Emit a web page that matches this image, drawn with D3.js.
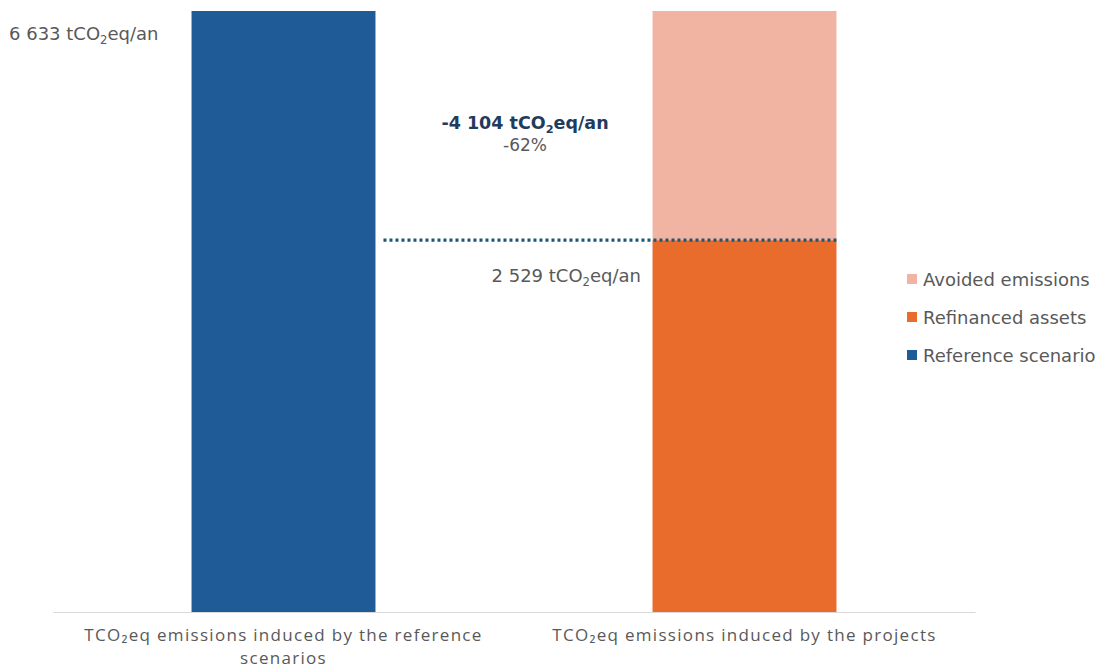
<!DOCTYPE html>
<html>
<head>
<meta charset="utf-8">
<script src="https://cdn.jsdelivr.net/npm/d3@7"></script>
<style>
  body { margin: 0; background: #fff; }
  svg { display: block; font-family: "DejaVu Sans", "Open Sans", sans-serif; }
</style>
</head>
<body>
<svg id="chart" width="1105" height="668"></svg>
<script>
// Categories on the x axis (each label split into lines)
const categories = ["reference", "projects"];
const categoryLabels = [
  ["TCO₂eq emissions induced by the reference", "scenarios"],
  ["TCO₂eq emissions induced by the projects"]
];

// Stacked series (tCO2eq/an)
const referenceScenario = [6633, 0];
const refinancedAssets  = [0, 4104];
const avoidedEmissions  = [0, 2529];

// Annotation values
const totalReference = 6633;
const reduction = -4104;
const reductionPct = -62;
const projectEmissions = 2529;

const seriesNames  = ["Reference scenario", "Refinanced assets", "Avoided emissions"];
const seriesColors = ["#1f5b97", "#ea6c2d", "#f2b4a2"];
const legendOrder  = ["Avoided emissions", "Refinanced assets", "Reference scenario"];

const svg = d3.select("#chart");

const x = d3.scaleBand()
  .domain(categories)
  .range([53, 975])
  .paddingInner(0.601)
  .paddingOuter(0.3005);

const y = d3.scaleLinear()
  .domain([0, totalReference])
  .range([612, 11]);

const rows = categories.map((c, i) => ({
  cat: c,
  "Reference scenario": referenceScenario[i],
  "Refinanced assets": refinancedAssets[i],
  "Avoided emissions": avoidedEmissions[i]
}));

const stack = d3.stack().keys(seriesNames);
const layers = stack(rows);
const color = d3.scaleOrdinal().domain(seriesNames).range(seriesColors);

svg.append("g").selectAll("g")
  .data(layers)
  .join("g")
  .attr("fill", d => color(d.key))
  .selectAll("rect")
  .data(d => d.filter(s => s[1] - s[0] > 0))
  .join("rect")
  .attr("x", d => x(d.data.cat))
  .attr("width", x.bandwidth())
  .attr("y", d => y(d[1]))
  .attr("height", d => y(d[0]) - y(d[1]));

// Baseline axis
const xAxis = svg.append("g")
  .attr("transform", `translate(0,${y(0)})`)
  .call(d3.axisBottom(x).tickSize(0).tickFormat(""));
xAxis.select(".domain").attr("stroke", "#d9d9d9").attr("stroke-width", 1.2);

// Category labels
categories.forEach((c, i) => {
  const cx = x(c) + x.bandwidth() / 2;
  const t = svg.append("text")
    .attr("x", cx)
    .attr("y", 641)
    .attr("text-anchor", "middle")
    .attr("font-family", "'Open Sans', sans-serif")
    .attr("font-size", 17)
    .attr("letter-spacing", 1.3)
    .attr("fill", "#595959");
  categoryLabels[i].forEach((line, k) => {
    t.append("tspan")
      .attr("x", cx)
      .attr("dy", k === 0 ? 0 : 23)
      .text(line);
  });
});

// Text helper with subscript "2" in tCO2eq
const fmt = v => d3.format(",")(Math.abs(v)).replace(/,/g, " ");
function co2Label(g, value, opts) {
  const t = g.append("text")
    .attr("x", opts.x).attr("y", opts.y)
    .attr("text-anchor", opts.anchor || "start")
    .attr("font-size", opts.size)
    .attr("font-weight", opts.weight || "normal")
    .attr("fill", opts.fill);
  t.append("tspan").text((value < 0 ? "-" : "") + fmt(value) + " tCO");
  t.append("tspan").attr("font-size", opts.size * 0.65).attr("dy", 4).text("2");
  t.append("tspan").attr("dy", -4).text("eq/an");
  return t;
}

co2Label(svg, totalReference, { x: 9, y: 40, size: 18, fill: "#595959" });

// Dotted line from reference bar to the top of the project emissions
const refRight = x("reference") + x.bandwidth();
const projRight = x("projects") + x.bandwidth();
svg.append("line")
  .attr("x1", refRight + 8).attr("x2", projRight)
  .attr("y1", y(refinancedAssets[1])).attr("y2", y(refinancedAssets[1]))
  .attr("stroke", "#1d5775")
  .attr("stroke-width", 3.2)
  .attr("stroke-dasharray", "3,3");

co2Label(svg, reduction, { x: 525, y: 129, size: 17.5, weight: "bold", fill: "#1f3b5e", anchor: "middle" });
svg.append("text")
  .attr("x", 525).attr("y", 151)
  .attr("text-anchor", "middle")
  .attr("font-size", 17)
  .attr("fill", "#595959")
  .text(reductionPct + "%");

co2Label(svg, projectEmissions, { x: 641, y: 282, size: 18, fill: "#595959", anchor: "end" });

// Legend
const legend = svg.append("g").attr("transform", "translate(907,0)");
legendOrder.forEach((name, i) => {
  const cy = 279 + i * 38;
  legend.append("rect")
    .attr("x", 0).attr("y", cy - 5)
    .attr("width", 10).attr("height", 10)
    .attr("fill", color(name));
  legend.append("text")
    .attr("x", 16).attr("y", cy + 7)
    .attr("font-size", 18)
    .attr("fill", "#595959")
    .text(name);
});
</script>
</body>
</html>
